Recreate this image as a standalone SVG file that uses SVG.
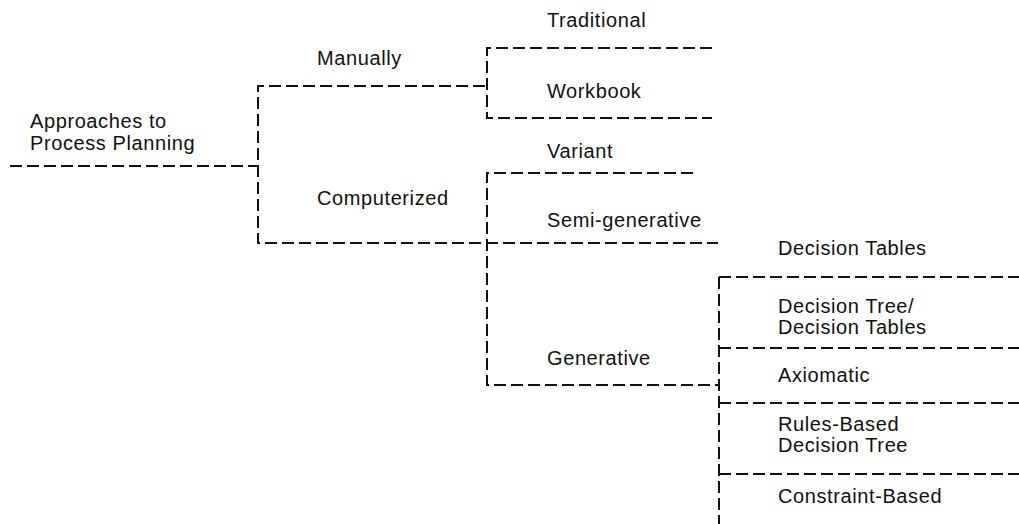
<svg xmlns="http://www.w3.org/2000/svg" width="1019" height="524" viewBox="0 0 1019 524">
  <style>
    .link { fill: none; stroke: #111; stroke-width: 2; stroke-dasharray: 12 5; }
    .label { font-family: "Liberation Sans", Arial, sans-serif; font-size: 20px; letter-spacing: 0.6px; fill: #111; }
  </style>
  <rect width="1019" height="524" fill="#fff"/>

  <!-- dashed tree branches -->
  <g id="connectors">
    <!-- root stem -->
    <path class="link" d="M10 166 H258"/>
    <!-- first split: Manually / Computerized -->
    <path class="link" d="M485 86 H258 V243 H718"/>
    <!-- Manually: Traditional / Workbook -->
    <path class="link" d="M712 48 H487 V118 H712"/>
    <!-- Computerized: Variant / Semi-generative / Generative -->
    <path class="link" d="M693 173 H487 V385 H719"/>
    <!-- Generative: five methods -->
    <path class="link" d="M719 277 V524"/>
    <path class="link" d="M719 277 H1019"/>
    <path class="link" d="M719 348 H1019"/>
    <path class="link" d="M719 403 H1019"/>
    <path class="link" d="M719 474 H1019"/>
  </g>

  <g id="root">
    <text class="label" x="30" y="128">Approaches to</text>
    <text class="label" x="30" y="150">Process Planning</text>
  </g>
  <g id="manually"><text class="label" x="317" y="65">Manually</text></g>
  <g id="computerized"><text class="label" x="317" y="205">Computerized</text></g>
  <g id="traditional"><text class="label" x="547" y="27">Traditional</text></g>
  <g id="workbook"><text class="label" x="547" y="98">Workbook</text></g>
  <g id="variant"><text class="label" x="547" y="158">Variant</text></g>
  <g id="semi-generative"><text class="label" x="547" y="227">Semi-generative</text></g>
  <g id="generative"><text class="label" x="547" y="365">Generative</text></g>
  <g id="decision-tables"><text class="label" x="778" y="255">Decision Tables</text></g>
  <g id="decision-tree-tables">
    <text class="label" x="778" y="313">Decision Tree/</text>
    <text class="label" x="778" y="334">Decision Tables</text>
  </g>
  <g id="axiomatic"><text class="label" x="778" y="382">Axiomatic</text></g>
  <g id="rules-based">
    <text class="label" x="778" y="431">Rules-Based</text>
    <text class="label" x="778" y="452">Decision Tree</text>
  </g>
  <g id="constraint-based"><text class="label" x="778" y="503">Constraint-Based</text></g>
</svg>
